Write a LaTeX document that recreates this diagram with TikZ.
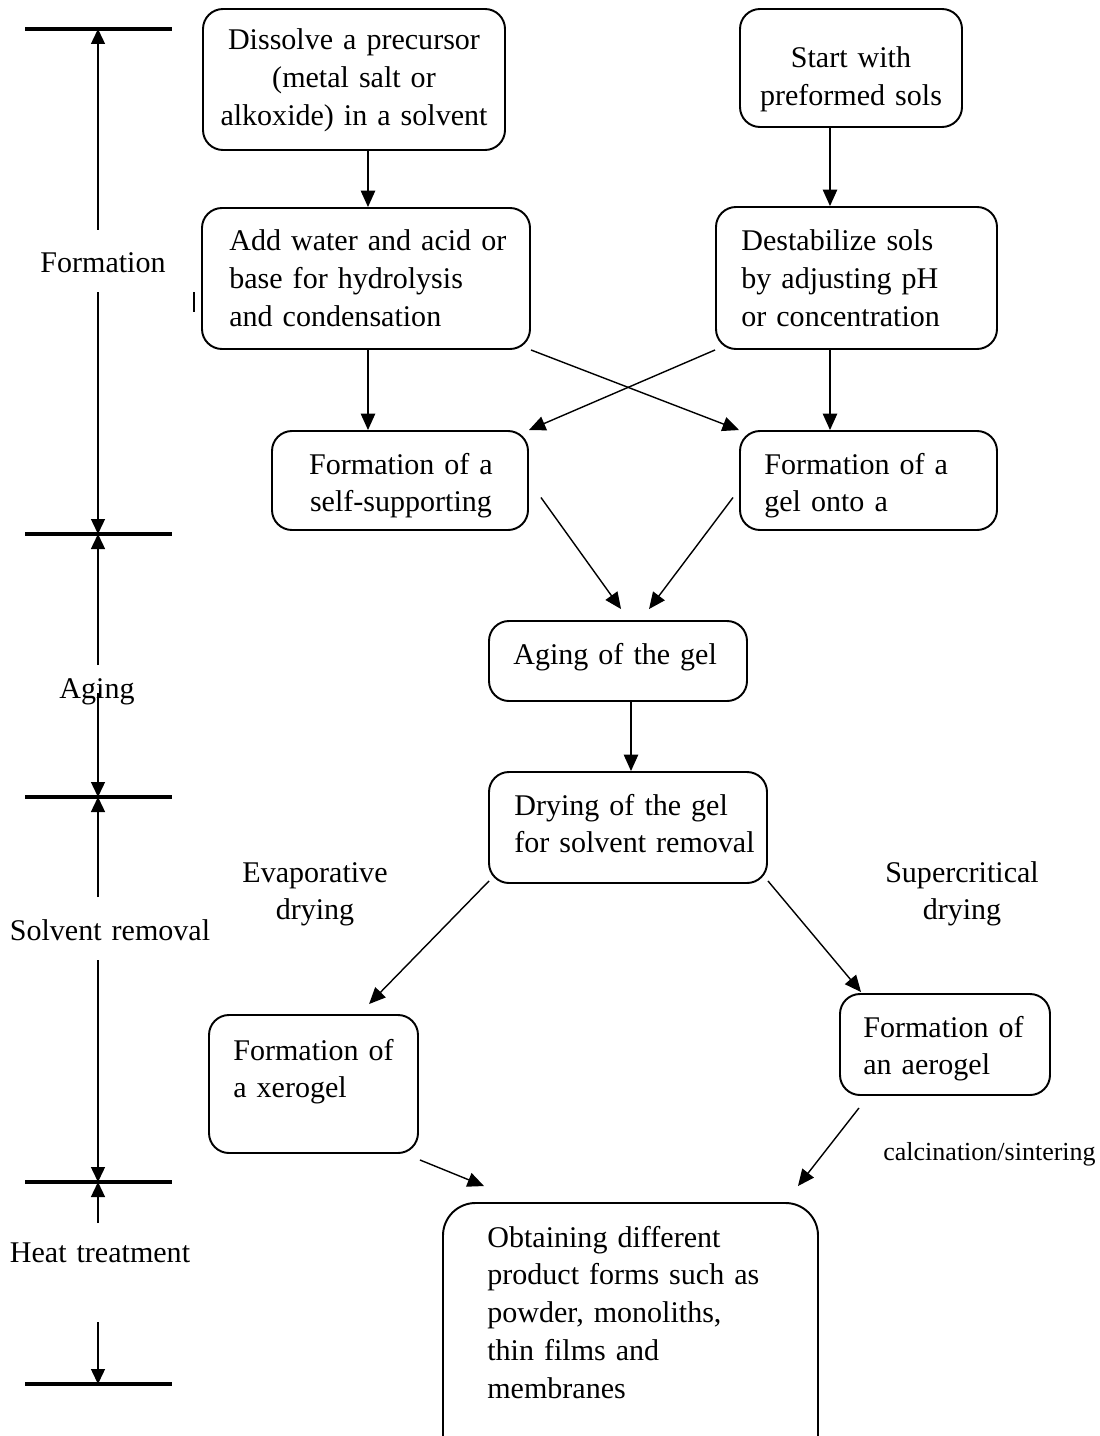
\documentclass[tikz,border=0pt]{standalone}
\usepackage{fontspec}
\setmainfont{Liberation Serif}
\usetikzlibrary{arrows.meta,fit,calc}
\begin{document}
\begin{tikzpicture}[x=0.02cm,y=-0.02cm,
  stepbox/.style={draw, line width=1.1pt, rounded corners=0.4cm, inner sep=0pt},
  txt/.style={inner sep=0pt, text width=9cm, font=\fontsize{17.1pt}{21.5pt}\selectfont},
  ltxt/.style={txt, align=left, anchor=base west},
  ctxt/.style={txt, align=center, anchor=base},
  arr/.style={line width=0.8pt, -{Triangle[length=0.33cm,width=0.29cm]}},
  scalearr/.style={line width=0.8pt, -{Triangle[length=0.3cm,width=0.28cm]}},
  bar/.style={line width=2.3pt},
]
\useasboundingbox (0,0) rectangle (1099,1436);
\clip (0,0) rectangle (1099,1436);

% process boxes
\node[stepbox, fit={(203,9) (505,150)}] (dis) {};
\node[stepbox, fit={(740,9) (962,127)}] (start) {};
\node[stepbox, fit={(202,208) (530,349)}] (add) {};
\node[stepbox, fit={(716,207) (997,349)}] (dest) {};
\node[stepbox, fit={(272,431) (528,530)}] (self) {};
\node[stepbox, fit={(740,431) (997,530)}] (gel) {};
\node[stepbox, fit={(489,621) (747,701)}] (age) {};
\node[stepbox, fit={(489,772) (767,883)}] (dry) {};
\node[stepbox, fit={(209,1015) (418,1153)}] (xer) {};
\node[stepbox, fit={(840,994) (1050,1095)}] (aer) {};
\node[stepbox, rounded corners=0.65cm, fit={(443,1203) (818,1470)}] (obt) {};

% box texts
\node[ctxt] (tdis) at (354,50) {Dissolve a precursor\\(metal salt or\\alkoxide) in a solvent};
\node[ctxt] (tstart) at (851,68) {Start with\\preformed sols};
\node[ltxt] (tadd) at (229,251) {Add water and acid or\\base for hydrolysis\\and condensation};
\node[ltxt] (tdest) at (741,251) {Destabilize sols\\by adjusting pH\\or concentration};
\node[ctxt] (tself) at (401,474) {Formation of a\\self-supporting};
\node[ltxt] (tgel) at (764,474) {Formation of a\\gel onto a};
\node[ltxt] (tage) at (513,664) {Aging of the gel};
\node[ltxt] (tdry) at (514,815) {Drying of the gel\\for solvent removal};
\node[ltxt] (txer) at (233,1060) {Formation of\\a xerogel};
\node[ltxt] (taer) at (863,1037) {Formation of\\an aerogel};
\node[ltxt] (tobt) at (487,1247) {Obtaining different\\product forms such as\\powder, monoliths,\\thin films and\\membranes};

% route labels
\node[ctxt] (evap) at (315,882) {Evaporative\\drying};
\node[ctxt] (super) at (962,882) {Supercritical\\drying};
\node[inner sep=0pt, anchor=base west, font=\fontsize{14.8pt}{18pt}\selectfont] (calc) at (883,1160) {calcination/sintering};

% flow arrows
\coordinate (cl) at (368,0);
\coordinate (cr) at (830,0);
\coordinate (cm) at (631,0);
\draw[arr] (dis.south -| cl) -- (add.north -| cl);
\draw[arr] (start.south -| cr) -- (dest.north -| cr);
\draw[arr] (add.south -| cl) -- (self.north -| cl);
\draw[arr] (dest.south -| cr) -- (gel.north -| cr);
\draw[arr] (add.south east) -- (gel.north west);
\draw[arr] (dest.south west) -- (self.north east);
\draw[arr] ($(self.east)+(12,17)$) -- ($(age.north west)+(133,-11)$);
\draw[arr] ($(gel.west)+(-6,17)$) -- ($(age.north west)+(161,-11)$);
\draw[arr] (age.south -| cm) -- (dry.north -| cm);
\draw[arr] ($(dry.south west)+(1,-3)$) -- ($(xer.north west)+(161,-10)$);
\draw[arr] ($(dry.south east)+(0,-3)$) -- ($(aer.north west)+(22,-1)$);
\draw[arr] ($(xer.south east)+(1,6)$) -- ($(obt.north west)+(42,-16)$);
\draw[arr] ($(aer.south east)+(-192,12)$) -- ($(obt.north east)+(-21,-16)$);

% stage scale on the left
\foreach \n/\yy in {b1/29,b2/534,b3/797,b4/1182,b5/1384}{
  \coordinate (\n) at (98,\yy);
  \draw[bar] (25,\yy) -- (172,\yy);
}
\node[ctxt] (lform) at (103,272) {Formation};
\node[ctxt] (lage) at (97,698) {Aging};
\node[ctxt] (lsolv) at (110,940) {Solvent removal};
\node[ctxt] (lheat) at (100,1262) {Heat treatment};

\coordinate (s1) at (98,230);
\coordinate (s2) at (98,292);
\coordinate (s3) at (98,665);
\coordinate (s4) at (98,693);
\coordinate (s5) at (98,897);
\coordinate (s6) at (98,960);
\coordinate (s7) at (98,1223);
\coordinate (s8) at (98,1322);
\draw[scalearr] (s1) -- (b1);
\draw[scalearr] (s2) -- (b2);
\draw[scalearr] (s3) -- (b2);
\draw[scalearr] (s4) -- (b3);
\draw[scalearr] (s5) -- (b3);
\draw[scalearr] (s6) -- (b4);
\draw[scalearr] (s7) -- (b4);
\draw[scalearr] (s8) -- (b5);

% short mark beside the second box
\draw[line width=1.6pt] (194,292) -- (194,312);
\end{tikzpicture}
\end{document}
